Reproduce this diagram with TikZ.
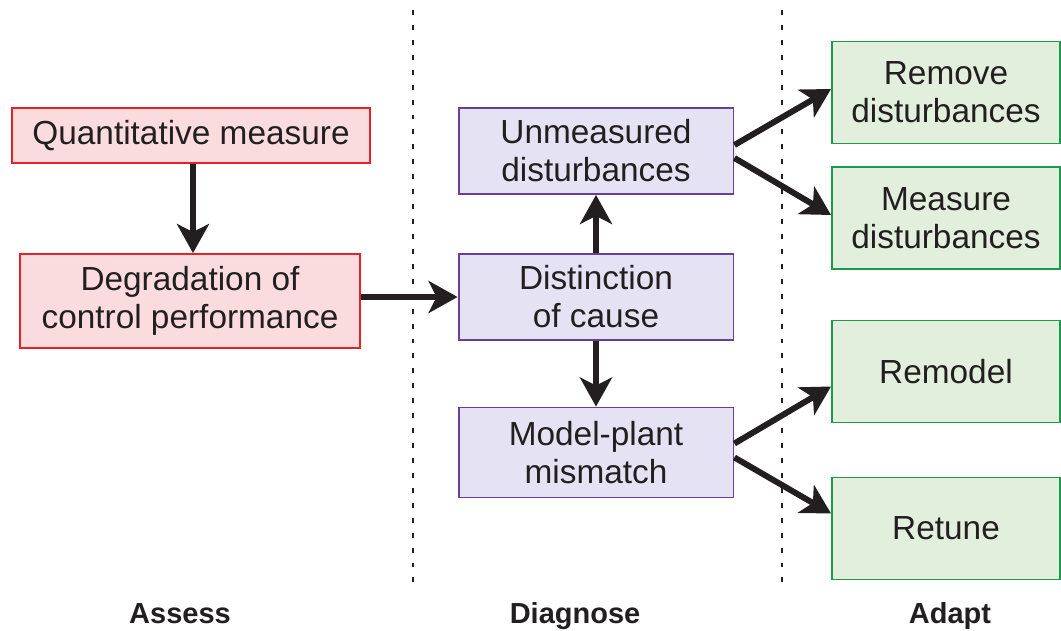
\documentclass[tikz,border=0pt]{standalone}
\usepackage{fontspec}
\setmainfont{Liberation Sans}
\usetikzlibrary{arrows.meta}

\definecolor{assessline}{HTML}{E8202A}
\definecolor{assessfill}{HTML}{FADCDF}
\definecolor{diagline}{HTML}{6A3D9A}
\definecolor{diagfill}{HTML}{E5E3F3}
\definecolor{adaptline}{HTML}{1B9A4B}
\definecolor{adaptfill}{HTML}{E3EFDD}
\definecolor{inkblack}{HTML}{231F20}

\begin{document}
\begin{tikzpicture}[x=0.02cm,y=-0.02cm,
  every node/.style={font=\fontsize{19}{21.6}\selectfont, text=inkblack, align=center, inner sep=0pt},
  assessbox/.style={draw=assessline, fill=assessfill, line width=1.1pt},
  diagbox/.style={draw=diagline, fill=diagfill, line width=1.1pt, minimum width=5.5cm},
  adaptbox/.style={draw=adaptline, fill=adaptfill, line width=1.1pt, minimum width=4.56cm, minimum height=2.04cm},
  flow/.style={line width=3.4pt, draw=inkblack, -{Stealth[length=0.58cm,width=0.64cm,inset=0.16cm]}},
  divider/.style={line width=1.1pt, draw=inkblack, dash pattern=on 2.8pt off 5.7pt},
  phase/.style={font=\fontsize{16.5}{19}\selectfont\bfseries, anchor=base}]
\useasboundingbox (0,0) rectangle (1061,631);
\draw [divider] (413,10) -- (413,592);
\draw [divider] (782,10) -- (782,592);
\node [assessbox, minimum width=7.16cm, minimum height=1.1cm] (qm) at (191,135.5) {Quantitative measure};
\node [assessbox, minimum width=6.8cm, minimum height=1.88cm] (dg) at (190,301) {Degradation of\\control performance};
\node [diagbox, minimum height=1.72cm] (ud) at (596,151) {Unmeasured\\disturbances};
\node [diagbox, minimum height=1.72cm] (dc) at (596,297) {Distinction\\of cause};
\node [diagbox, minimum height=1.8cm] (mp) at (596,452.5) {Model-plant\\mismatch};
\node [adaptbox] (rd) at (946,92.5) {Remove\\disturbances};
\node [adaptbox] (md) at (946,218) {Measure\\disturbances};
\node [adaptbox] (rm) at (946,371.5) {Remodel};
\node [adaptbox] (rt) at (946,528.5) {Retune};
\draw [flow] ([xshift=0.04cm]qm.south) -- ([xshift=0.04cm]qm.south |- dg.north);
\draw [flow] (dg.east |- dc) -- (dc.west);
\draw [flow] (dc) -- (ud);
\draw [flow] (dc) -- (mp);
\draw [flow] ([yshift=0.12cm]ud.east) -- ([yshift=0.07cm]rd.west);
\draw [flow] ([yshift=-0.14cm]ud.east) -- ([yshift=0.06cm]md.west);
\draw [flow] ([yshift=0.18cm]mp.east) -- ([yshift=-0.3cm]rm.west);
\draw [flow] ([yshift=-0.1cm]mp.east) -- ([yshift=0.3cm]rt.west);
\node [phase] (as) at (180,623) {Assess};
\node [phase] (di) at (575,623) {Diagnose};
\node [phase] (ad) at (950,623) {Adapt};
\end{tikzpicture}
\end{document}
